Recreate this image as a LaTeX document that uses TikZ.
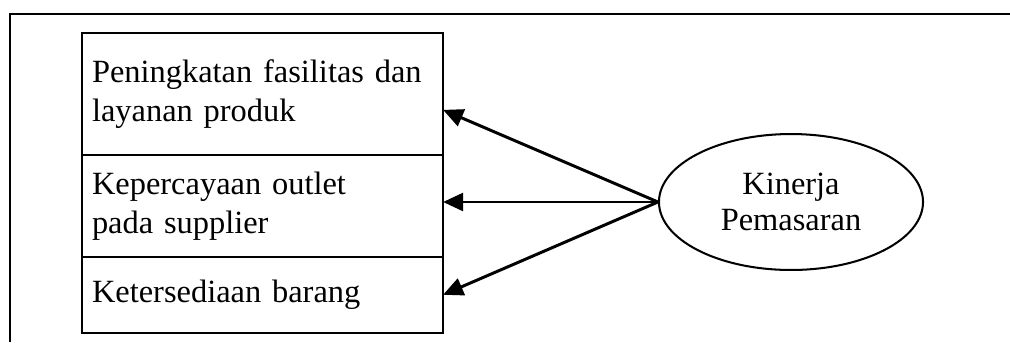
\documentclass[tikz,border=0pt]{standalone}
\usepackage{fontspec}
\setmainfont{Liberation Serif}
\usetikzlibrary{
    arrows.meta,
    positioning,
    shapes.geometric
}
\tikzset{
  rowbox/.style = {draw, line width=0.75pt, outer sep=0pt, minimum width=133.6pt,
                   text width=126.2pt, inner xsep=3.7pt, align=left,
                   font=\fontsize{12}{14.4}\selectfont},
  oval/.style   = {draw, ellipse, line width=0.75pt, minimum width=97.7pt,
                   minimum height=50.3pt, inner sep=0pt, align=center,
                   font=\fontsize{12}{13.4}\selectfont},
  arr/.style    = {-{Triangle[length=7.4pt, width=6.6pt]}, line width=1.1pt}
}

\begin{document}
\begin{tikzpicture}[x=0.37pt, y=0.37pt, node distance=0pt]
\useasboundingbox (0,0) rectangle (1010,342);
\draw[line width=0.75pt] (10,0) -- (10,328) -- (1010,328);
\node[rowbox, anchor=north west, minimum height=45.1pt] (r1) at (82,309) {Peningkatan fasilitas dan layanan produk};
\node[rowbox, below=of r1, minimum height=37.7pt] (r2) {Kepercayaan outlet\\ pada supplier};
\node[rowbox, below=of r2, minimum height=28.1pt] (r3) {Ketersediaan barang};
\node[oval] (kp) at (791,140) {Kinerja\\ Pemasaran};
\draw[arr] (kp.west) -- ([yshift=-5.9pt]r1.east);
\draw[arr] (kp.west) -- (kp.west -| r2.east);
\draw[arr] (kp.west) -- (r3.east);
\end{tikzpicture}
\end{document}
